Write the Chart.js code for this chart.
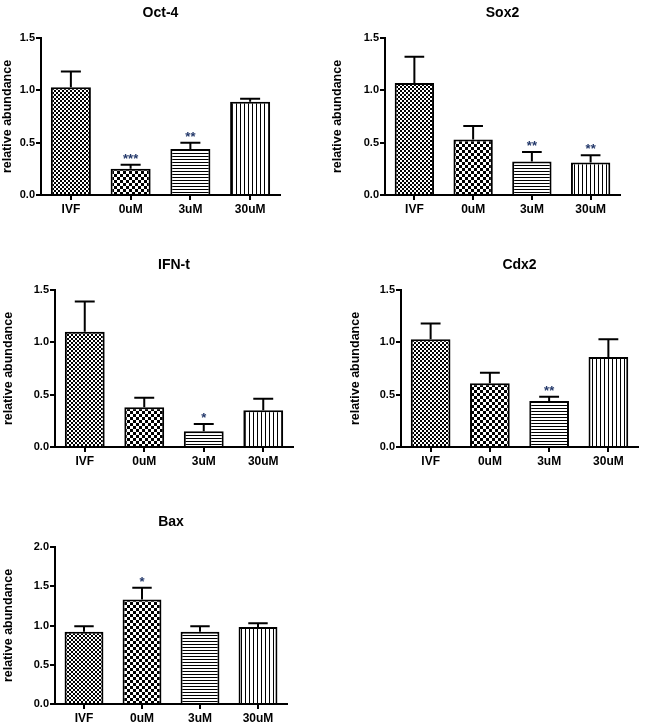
<!DOCTYPE html>
<html>
<head>
<meta charset="utf-8">
<script src="https://cdn.jsdelivr.net/npm/chart.js@4.4.1/dist/chart.umd.min.js"></script>
<style>
html, body { margin: 0; padding: 0; background: #fff; overflow: hidden; }
canvas { position: absolute; }
</style>
</head>
<body>
<canvas id="oct4"></canvas>
<canvas id="sox2"></canvas>
<canvas id="ifnt"></canvas>
<canvas id="cdx2"></canvas>
<canvas id="bax"></canvas>
<script>
const categories = ['IVF', '0uM', '3uM', '30uM'];

const oct4Mean = [1.03, 0.25, 0.44, 0.89];
const oct4Sem = [0.15, 0.04, 0.06, 0.03];
const oct4Sig = ['', '***', '**', ''];

const sox2Mean = [1.07, 0.53, 0.32, 0.31];
const sox2Sem = [0.25, 0.13, 0.09, 0.07];
const sox2Sig = ['', '', '**', '**'];

const ifntMean = [1.10, 0.38, 0.15, 0.35];
const ifntSem = [0.29, 0.09, 0.07, 0.11];
const ifntSig = ['', '', '*', ''];

const cdx2Mean = [1.03, 0.61, 0.44, 0.86];
const cdx2Sem = [0.15, 0.10, 0.04, 0.17];
const cdx2Sig = ['', '', '**', ''];

const baxMean = [0.92, 1.33, 0.92, 0.98];
const baxSem = [0.07, 0.15, 0.07, 0.05];
const baxSig = ['', '*', '', ''];

const FONT = "'Liberation Sans', Arial, sans-serif";
const STAR_COLOR = '#23386a';

// small tiles used as bar fills
function makePattern(size, paint) {
    const c = document.createElement('canvas');
    c.width = size[0];
    c.height = size[1];
    const g = c.getContext('2d');
    g.fillStyle = '#fff';
    g.fillRect(0, 0, c.width, c.height);
    g.fillStyle = '#000';
    paint(g);
    return document.getElementById('oct4').getContext('2d').createPattern(c, 'repeat');
}

const fills = [
    makePattern([4, 4], g => { g.fillRect(0, 0, 2, 2); g.fillRect(2, 2, 2, 2); }),
    makePattern([6, 6], g => { g.fillRect(0, 0, 3, 3); g.fillRect(3, 3, 3, 3); }),
    makePattern([4, 3], g => { g.fillRect(0, 0, 4, 1); }),
    makePattern([4, 4], g => { g.fillRect(0, 0, 1, 4); })
];

const extras = {
    id: 'extras',
    afterDatasetsDraw(chart, args, opts) {
        const ctx = chart.ctx;
        const y = chart.scales.y;
        const meta = chart.getDatasetMeta(0);
        ctx.save();
        ctx.strokeStyle = '#000';
        ctx.lineWidth = 2;
        meta.data.forEach((bar, i) => {
            const top = y.getPixelForValue(opts.mean[i] + opts.sem[i]);
            const half = bar.width / 4;
            ctx.beginPath();
            ctx.moveTo(bar.x, bar.y);
            ctx.lineTo(bar.x, top);
            ctx.moveTo(bar.x - half, top);
            ctx.lineTo(bar.x + half, top);
            ctx.stroke();
            if (opts.sig[i]) {
                ctx.fillStyle = STAR_COLOR;
                ctx.font = 'bold 13px ' + FONT;
                ctx.textAlign = 'center';
                ctx.textBaseline = 'alphabetic';
                ctx.fillText(opts.sig[i], bar.x, top - 2);
            }
        });
        const a = chart.chartArea;
        ctx.fillStyle = '#000';
        ctx.font = 'bold 14px ' + FONT;
        ctx.textAlign = 'center';
        ctx.textBaseline = 'middle';
        ctx.fillText(opts.title, (a.left + a.right) / 2, a.top - 25);
        ctx.restore();
    }
};

function panel(id, title, mean, sem, sig, yMax, box) {
    const el = document.getElementById(id);
    el.width = box.right - box.left + 8;
    el.height = 215;
    el.style.left = box.left + 'px';
    el.style.top = (box.chartTop - 38) + 'px';
    return new Chart(el, {
        type: 'bar',
        data: {
            labels: categories,
            datasets: [{
                data: mean,
                backgroundColor: fills,
                borderColor: '#000',
                borderWidth: 2,
                barPercentage: 0.67,
                categoryPercentage: 1
            }]
        },
        options: {
            responsive: false,
            animation: false,
            layout: { padding: { left: 0, top: 38, right: 8, bottom: 0 } },
            plugins: {
                legend: { display: false },
                tooltip: { enabled: false },
                extras: { title: title, mean: mean, sem: sem, sig: sig }
            },
            scales: {
                x: {
                    afterFit: s => { s.height = 20; },
                    grid: { drawOnChartArea: false, offset: false, color: '#000', lineWidth: 2, tickLength: 5 },
                    border: { color: '#000', width: 2 },
                    ticks: { color: '#000', padding: 2, font: { family: FONT, size: 12, weight: 'bold' } }
                },
                y: {
                    min: 0,
                    max: yMax,
                    afterFit: s => { s.width = box.axis - box.left; },
                    grid: { drawOnChartArea: false, color: '#000', lineWidth: 2, tickLength: 5 },
                    border: { color: '#000', width: 2 },
                    ticks: {
                        stepSize: 0.5,
                        color: '#000',
                        padding: 1,
                        font: { family: FONT, size: 11, weight: 'bold' },
                        callback: v => v.toFixed(1)
                    },
                    title: {
                        display: true,
                        text: 'relative abundance',
                        color: '#000',
                        padding: 0,
                        font: { family: FONT, size: 12.5, weight: 'bold' }
                    }
                }
            }
        },
        plugins: [extras]
    });
}

panel('oct4', 'Oct-4', oct4Mean, oct4Sem, oct4Sig, 1.5, { left: 0, axis: 41, right: 280, chartTop: 38 });
panel('sox2', 'Sox2', sox2Mean, sox2Sem, sox2Sig, 1.5, { left: 330, axis: 385, right: 620, chartTop: 38 });
panel('ifnt', 'IFN-t', ifntMean, ifntSem, ifntSig, 1.5, { left: 1, axis: 55, right: 293, chartTop: 290 });
panel('cdx2', 'Cdx2', cdx2Mean, cdx2Sem, cdx2Sig, 1.5, { left: 348, axis: 401, right: 638, chartTop: 290 });
panel('bax', 'Bax', baxMean, baxSem, baxSig, 2.0, { left: 1, axis: 55, right: 287, chartTop: 547 });
</script>
</body>
</html>
